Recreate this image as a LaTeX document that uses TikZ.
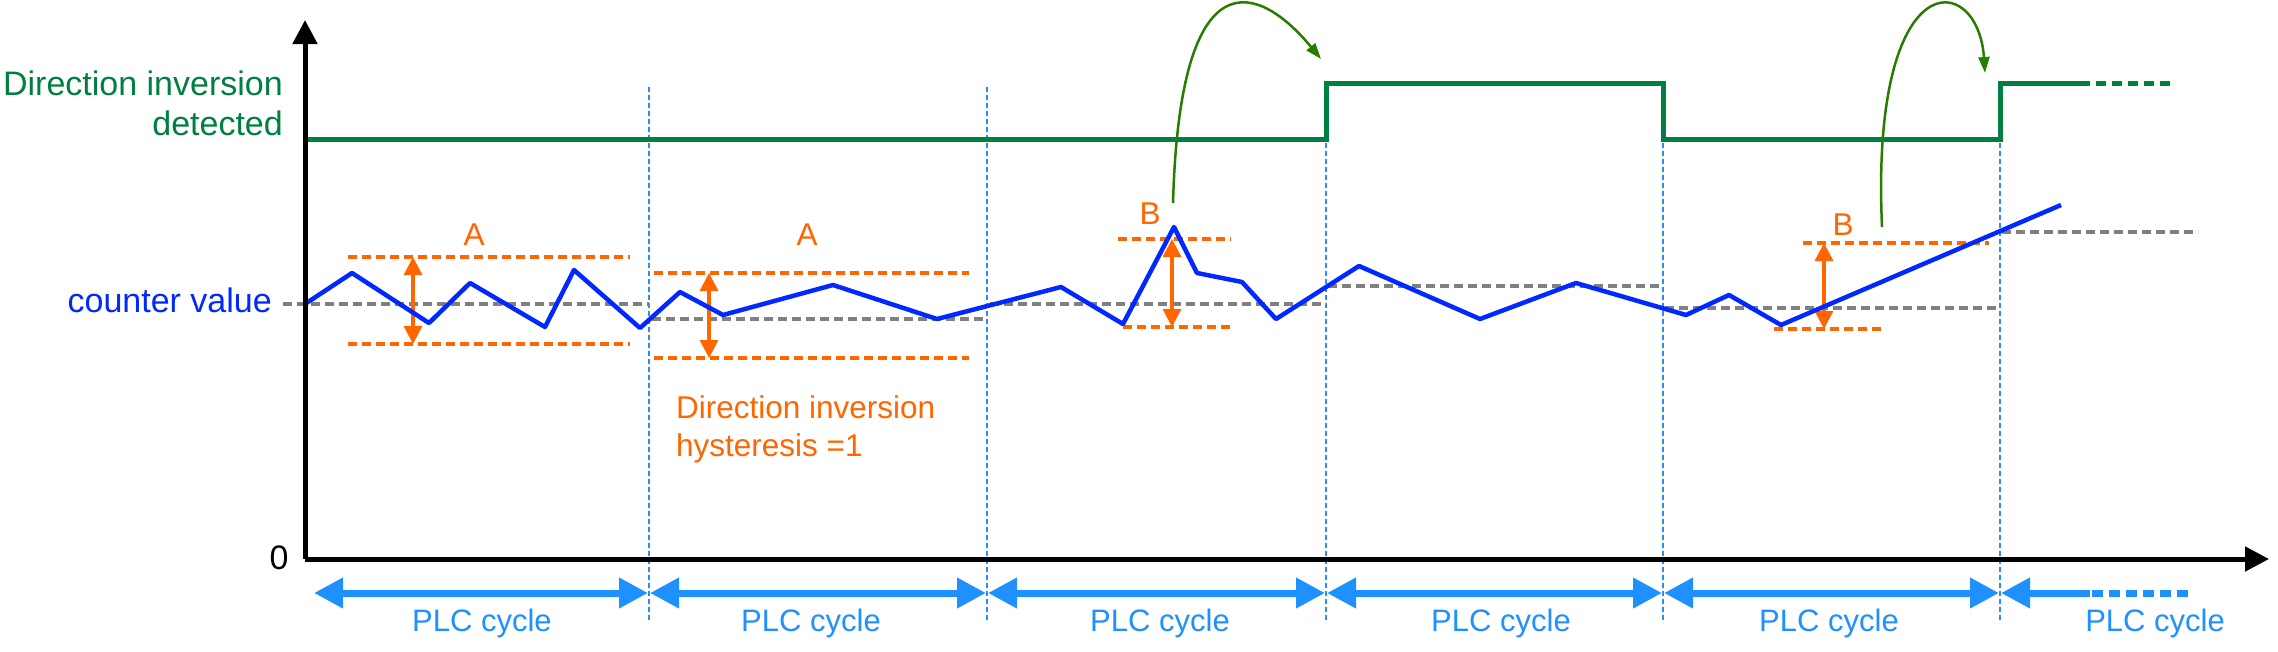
\documentclass[tikz,border=0pt]{standalone}
\usepackage{fontspec}
\setmainfont{Liberation Sans}
\usetikzlibrary{arrows.meta}

\definecolor{sigblue}{RGB}{0,40,255}
\definecolor{siggreen}{RGB}{0,128,64}
\definecolor{jumpgreen}{RGB}{40,125,0}
\definecolor{hystorange}{RGB}{255,102,0}
\definecolor{plcblue}{RGB}{30,144,255}

\tikzset{
  axis/.style={line width=5pt, -{Triangle[length=24pt,width=24pt]}},
  midline/.style={gray, line width=4pt, dash pattern=on 9pt off 5pt},
  band/.style={hystorange, line width=4pt, dash pattern=on 9pt off 5pt},
  hyst/.style={hystorange, line width=3.3pt, {Triangle[length=18pt,width=18pt]}-{Triangle[length=18pt,width=18pt]}},
  cycleline/.style={plcblue, line width=2.5pt, dash pattern=on 5pt off 3pt},
  cyclearrow/.style={plcblue, line width=7pt, {Triangle[length=29pt,width=29pt]}-{Triangle[length=29pt,width=29pt]}},
  jump/.style={jumpgreen, line width=2.5pt, -{Triangle[length=16pt,width=11pt]}},
  biglbl/.style={font=\fontsize{34}{40}\selectfont, inner sep=0pt},
  lbl/.style={font=\fontsize{31.5}{38}\selectfont, inner sep=0pt},
}

\begin{document}
\begin{tikzpicture}[x=1pt, y=-1pt]
  \useasboundingbox (0,0) rectangle (2278,651);

  % 1. 周期分隔线
  \foreach \bx in {649,987,1326,1663,2000}
    \draw[cycleline] (\bx,87) -- (\bx,623);

  % 2. 中线 (灰色虚线)
  \draw[midline] (283,304) -- (649,304);
  \draw[midline] (652,319) -- (984,319);
  \draw[midline] (990,304) -- (1326,304);
  \draw[midline] (1328,286) -- (1660,286);
  \draw[midline] (1665,308) -- (1998,308);
  \draw[midline] (2002,232) -- (2198,232);

  % 3. 滞回带
  \draw[band] (348,257) -- (630,257);
  \draw[band] (348,344) -- (630,344);
  \draw[hyst] (413,257) -- (413,344);
  \node[lbl, hystorange, anchor=base] (labA1) at (474,245) {A};

  \draw[band] (654,273) -- (969,273);
  \draw[band] (654,358) -- (969,358);
  \draw[hyst] (709,273) -- (709,358);
  \node[lbl, hystorange, anchor=base] (labA2) at (807,245) {A};

  \draw[band] (1118,239) -- (1231,239);
  \draw[band] (1123,327) -- (1230,327);
  \draw[hyst] (1172,239) -- (1172,327);
  \node[lbl, hystorange, anchor=base] (labB1) at (1150,224) {B};

  \draw[band] (1803,243) -- (1989,243);
  \draw[band] (1774,329) -- (1881,329);
  \draw[hyst] (1824,243) -- (1824,329);
  \node[lbl, hystorange, anchor=base] (labB2) at (1843,235) {B};

  \node[lbl, hystorange, align=left, anchor=north west] (hystlbl) at (676,395)
    {Direction inversion\\hysteresis =1};

  % 4. 计数值曲线
  \draw[sigblue, line width=4.5pt, line join=round] plot coordinates {
    (305,304) (352,273) (429,323) (470,283) (545,327) (574,270) (640,328)
    (680,292) (723,315) (833,285) (937,319) (1061,287) (1123,324) (1174,227)
    (1197,273) (1242,282) (1276,319) (1359,266) (1480,319) (1576,283)
    (1686,315) (1729,295) (1781,325) (2061,205)};
  \node[biglbl, sigblue, anchor=base east] (cntlbl) at (272,312) {counter value};

  % 5. 方向反转信号
  \draw[siggreen, line width=5pt] (308,139) -- (1326,139) -- (1326,83) -- (1663,83)
    -- (1663,139) -- (2000,139) -- (2000,83) -- (2080,83);
  \draw[siggreen, line width=5pt, dash pattern=on 10pt off 6pt] (2080,83) -- (2175,83);
  \node[biglbl, siggreen, align=right, anchor=north east] (dirlbl) at (283,71)
    {Direction inversion\\detected};

  \draw[jump] (1173,203) .. controls (1180,-50) and (1260,-15) .. (1321,59);
  \draw[jump] (1882,227) .. controls (1870,-40) and (1978,-30) .. (1985,73);

  % 6. 坐标轴
  \draw[axis] (305,559) -- (305,20);
  \draw[axis] (305,559) -- (2269,559);
  \node[biglbl] (zero) at (279,558) {0};

  % 7. PLC 周期
  \foreach \a/\b in {314/648, 650/986, 988/1325, 1327/1662, 1664/1999}
    \draw[cyclearrow] (\a,593) -- (\b,593);
  \draw[plcblue, line width=7pt, {Triangle[length=29pt,width=29pt]}-] (2001,593) -- (2090,593);
  \draw[plcblue, line width=7pt, dash pattern=on 11pt off 6pt] (2092,593) -- (2193,593);
  \foreach \cx [count=\i] in {482,811,1160,1501,1829,2155}
    \node[lbl, plcblue, font=\fontsize{31}{38}\selectfont, anchor=base] (cyc\i) at (\cx,631) {PLC cycle};
\end{tikzpicture}
\end{document}
